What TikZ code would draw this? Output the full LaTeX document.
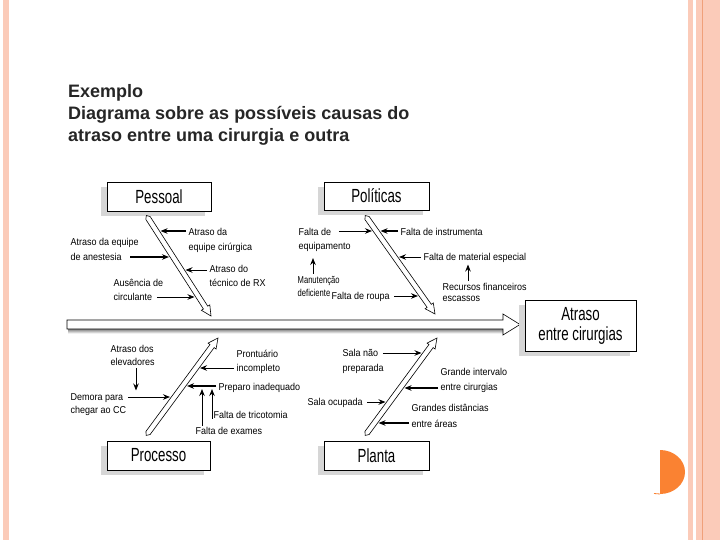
\documentclass[tikz,border=0pt]{standalone}
\usepackage{fontspec}
\setmainfont{Liberation Sans}
\newfontfamily\condfont[FakeStretch=0.9]{Liberation Sans}
\newfontfamily\narrowfont[FakeStretch=0.76]{Liberation Sans}
\newfontfamily\boxfont[FakeStretch=0.7]{Liberation Sans}
\usetikzlibrary{calc,arrows.meta,shadows}
\definecolor{stripe}{HTML}{FBCBB9}
\definecolor{stripeline}{HTML}{F0A07A}
\definecolor{dot}{HTML}{FA8232}
\definecolor{shade}{HTML}{D6D6D6}
\definecolor{titlegray}{HTML}{262626}

% hollow bone arrow from #1 to its tip #2
\newcommand{\bone}[2]{%
  \coordinate (bh) at ($(#2)!10pt!(#1)$);
  \filldraw[bonedraw] ($(#1)!-3pt!(#2)$) -- ($(#1)!2.6pt!90:(#2)$)
      -- ($(bh)!2.6pt!90:(#2)$) -- ($(bh)!5pt!90:(#2)$) -- (#2)
      -- ($(bh)!5pt!-90:(#2)$) -- ($(bh)!2.6pt!-90:(#2)$)
      -- ($(#1)!2.6pt!-90:(#2)$) -- cycle;}

\begin{document}
\begin{tikzpicture}[x=1pt,y=-1pt]
    \tikzstyle{ann} = [font=\condfont\fontsize{10}{12}\selectfont,inner sep=0.5pt,anchor=base west]
    \tikzstyle{tightann} = [ann,font=\narrowfont\fontsize{10}{12}\selectfont]
    \tikzstyle{cat} = [draw,fill=white,line width=0.8pt,align=center,inner sep=0pt,
                       font=\boxfont\fontsize{19}{20}\selectfont,
                       general shadow={fill=shade,shadow xshift=-6pt,shadow yshift=-5pt}]
    \tikzstyle{cause} = [line width=0.9pt,shorten <=2pt,arrows=-{Stealth[length=7pt,width=5.5pt]}]
    \tikzstyle{bigcause} = [cause,line width=1.4pt]
    \tikzstyle{bonedraw} = [draw=black,fill=white,line width=0.6pt]

    \path[use as bounding box,fill=white] (0,0) rectangle (720,540);
    % slide decoration
    \fill[stripe] (3,0) rectangle (9,540);
    \fill[stripe] (688,0) rectangle (693,540);
    \fill[stripe] (696,0) rectangle (720,540);
    \draw[stripeline,line width=0.8pt] (702.5,0) -- (702.5,540);
    \fill[dot] (660,450) arc[start angle=90,end angle=-90,x radius=25pt,y radius=22pt] -- cycle;
    \draw[dot,line width=0.8pt] (654,493.5) -- (660,494);

    \node[anchor=north west,align=left,inner sep=0pt,text=titlegray,
          font=\bfseries\fontsize{18}{22}\selectfont] (title) at (68,84)
          {Exemplo\\Diagrama sobre as possíveis causas do\\atraso entre uma cirurgia e outra};

    % spine
    \fill[shade] (68,329) rectangle (503,333.5);
    \filldraw[bonedraw] (67,320) -- (503,320) -- (503,314) -- (520,324.5)
                        -- (503,335) -- (503,329) -- (67,329) -- cycle;
    \node[cat,minimum width=111pt,minimum height=51pt] (efeito) at (580.5,325.5) {Atraso\\entre cirurgias};

    % categories
    \node[cat,minimum width=104pt,minimum height=29pt] (pessoal) at (159,196.5) {Pessoal};
    \node[cat,minimum width=105pt,minimum height=28pt] (politicas) at (376.5,196) {Políticas};
    \node[cat,minimum width=103pt,minimum height=29pt] (processo) at (158.5,455.5) {Processo};
    \node[cat,minimum width=105pt,minimum height=29pt] (planta) at (376.5,455.5) {Planta};

    \coordinate (pe0) at (148,218); \coordinate (pe1) at (211,316);
    \coordinate (po0) at (367,218); \coordinate (po1) at (435,314);
    \coordinate (pr0) at (148,433); \coordinate (pr1) at (218,338);
    \coordinate (pl0) at (367,433); \coordinate (pl1) at (437,338);
    \bone{pe0}{pe1}
    \bone{po0}{po1}
    \bone{pr0}{pr1}
    \bone{pl0}{pl1}

    % Pessoal
    \node[ann] (pA1) at (188,235.5) {Atraso da};
    \node[ann] (pA2) at (188,250) {equipe cirúrgica};
    \node[ann] (pB1) at (70,245.5) {Atraso da equipe};
    \node[ann] (pB2) at (70,260) {de anestesia};
    \node[ann] (pC1) at (209,272.5) {Atraso do};
    \node[ann] (pC2) at (209,286.5) {técnico de RX};
    \node[ann] (pD1) at (113,286.5) {Ausência de};
    \node[ann] (pD2) at (113,300.5) {circulante};
    \coordinate (ta) at (160.5,231);
    \coordinate (tb) at (169,257);
    \coordinate (tc) at (185.5,270);
    \coordinate (td) at (194.5,297);
    \draw[bigcause] (pA1.west |- ta) -- (ta);
    \draw[bigcause,shorten <=8pt] (pB2.east |- tb) -- (tb);
    \draw[cause] (pC1.west |- tc) -- (tc);
    \draw[cause,shorten <=4pt] (pD2.east |- td) -- (td);

    % Politicas
    \node[ann] (qA1) at (298,235.5) {Falta de};
    \node[ann] (qA2) at (298,249.5) {equipamento};
    \node[ann] (qB) at (400,235.5) {Falta de instrumenta};
    \node[ann] (qC) at (423,260.5) {Falta de material especial};
    \node[tightann] (qD1) at (297,283.5) {Manutenção};
    \node[tightann] (qD2) at (297,296.5) {deficiente};
    \node[ann] (qE1) at (442,290.5) {Recursos financeiros};
    \node[ann] (qE2) at (442,301.5) {escassos};
    \node[ann] (qF) at (331,299.5) {Falta de roupa};
    \coordinate (te) at (372,231);
    \coordinate (tf) at (380.5,231);
    \coordinate (tg) at (399,257);
    \coordinate (th) at (313,258);
    \coordinate (ti) at (468,264.5);
    \coordinate (tj) at (418,296);
    \draw[cause,shorten <=7pt] (qA1.east |- te) -- (te);
    \draw[bigcause] (qB.west |- tf) -- (tf);
    \draw[cause] (qC.west |- tg) -- (tg);
    \draw[cause] (qD1.north -| th) -- (th);
    \draw[cause] (qE1.north -| ti) -- (ti);
    \draw[cause,shorten <=4pt] (qF.east |- tj) -- (tj);

    % Processo
    \node[ann] (rA1) at (110,352.5) {Atraso dos};
    \node[ann] (rA2) at (110,365.5) {elevadores};
    \node[ann] (rB1) at (236,357.5) {Prontuário};
    \node[ann] (rB2) at (236,371.5) {incompleto};
    \node[ann] (rC) at (218,390.5) {Preparo inadequado};
    \node[ann] (rD1) at (70,400.5) {Demora para};
    \node[ann] (rD2) at (70,413.5) {chegar ao CC};
    \node[ann] (rE) at (213,418) {Falta de tricotomia};
    \node[ann] (rF) at (195,434) {Falta de exames};
    \coordinate (tk) at (136,390.5);
    \coordinate (tl) at (200,368);
    \coordinate (tm) at (187,386);
    \coordinate (tn) at (170,397);
    \coordinate (to) at (212,389);
    \coordinate (tp) at (202,389);
    \draw[cause] (rA2.south -| tk) -- (tk);
    \draw[cause] (rB2.west |- tl) -- (tl);
    \draw[bigcause] (rC.west |- tm) -- (tm);
    \draw[cause,shorten <=4pt] (rD1.east |- tn) -- (tn);
    \draw[cause,shorten <=0pt] (rE.south west -| to) -- (to);
    \draw[cause,shorten <=0pt] (rF.north -| tp) -- (tp);

    % Planta
    \node[ann] (sA1) at (342,356.5) {Sala não};
    \node[ann] (sA2) at (342,371.5) {preparada};
    \node[ann] (sB1) at (440,375.5) {Grande intervalo};
    \node[ann] (sB2) at (440,390.5) {entre cirurgias};
    \node[ann] (sC) at (307,405.5) {Sala ocupada};
    \node[ann] (sD1) at (411,411.5) {Grandes distâncias};
    \node[ann] (sD2) at (411,427) {entre áreas};
    \coordinate (tq) at (421.5,353);
    \coordinate (tr) at (404.5,388);
    \coordinate (ts) at (385.5,402);
    \coordinate (tt) at (378.5,423);
    \draw[cause,shorten <=4pt] (sA1.east |- tq) -- (tq);
    \draw[bigcause] (sB2.west |- tr) -- (tr);
    \draw[cause,shorten <=4pt] (sC.east |- ts) -- (ts);
    \draw[bigcause] (sD2.west |- tt) -- (tt);
\end{tikzpicture}
\end{document}
